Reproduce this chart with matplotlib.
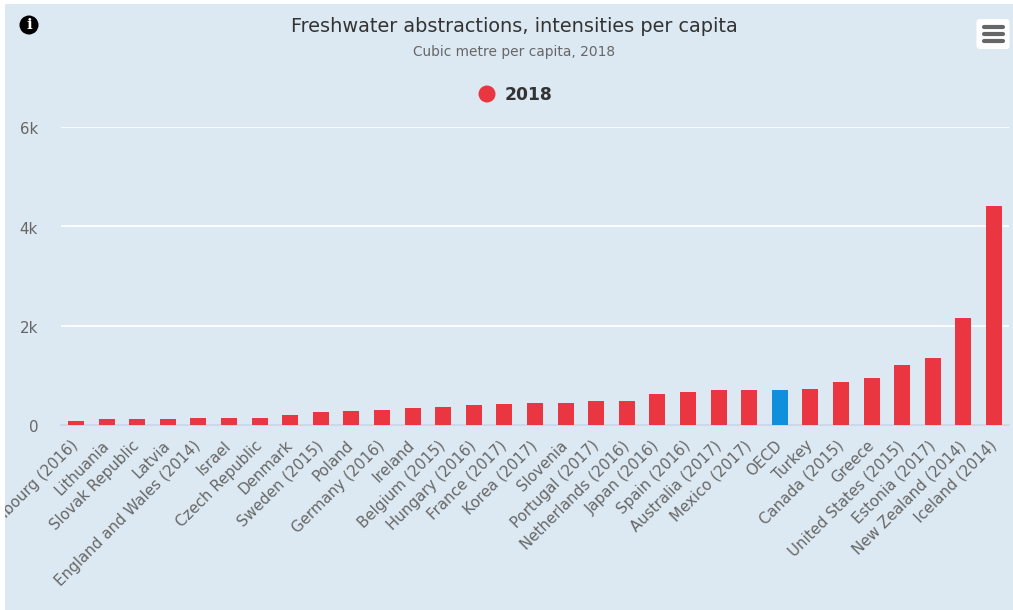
import matplotlib
matplotlib.use('Agg')
import matplotlib.pyplot as plt
from matplotlib.patches import Rectangle, Circle, FancyBboxPatch
from matplotlib.transforms import Affine2D

countries = ['Luxembourg (2016)', 'Lithuania', 'Slovak Republic', 'Latvia',
             'England and Wales (2014)', 'Israel', 'Czech Republic', 'Denmark',
             'Sweden (2015)', 'Poland', 'Germany (2016)', 'Ireland',
             'Belgium (2015)', 'Hungary (2016)', 'France (2017)', 'Korea (2017)',
             'Slovenia', 'Portugal (2017)', 'Netherlands (2016)', 'Japan (2016)',
             'Spain (2016)', 'Australia (2017)', 'Mexico (2017)', 'OECD', 'Turkey',
             'Canada (2015)', 'Greece', 'United States (2015)', 'Estonia (2017)',
             'New Zealand (2014)', 'Iceland (2014)']
values = [80, 120, 120, 120, 140, 140, 140, 200, 260, 280, 300, 340,
          360, 400, 420, 440, 440, 480, 480, 620, 660, 700, 700, 700, 720,
          860, 940, 1200, 1340, 2160, 4410]
yticks = [0, 2000, 4000, 6000]
ytick_labels = ['0', '2k', '4k', '6k']

W, H = 1013, 610
BG = '#dce9f2'
RED = '#ea3640'
BLUE = '#0f8fdc'
GREY = '#666666'


def fx(x):
    return x / W


def fy(y):
    return 1 - y / H


fig = plt.figure(figsize=(W / 100, H / 100), dpi=100, facecolor='white')
fig.patches.append(Rectangle((fx(5), 0), 1 - fx(5), fy(4), transform=fig.transFigure,
                             facecolor=BG, edgecolor='none', zorder=-5))

ax = fig.add_axes([fx(60.7), fy(425), fx(948.6), fy(127) - fy(425)])
ax.patch.set_alpha(0)
colors = [BLUE if c == 'OECD' else RED for c in countries]
ax.bar(range(len(values)), values, width=0.52, color=colors, zorder=3)
ax.set_xlim(-0.5, len(values) - 0.5)
ax.set_ylim(0, 6000)
for s in ['top', 'right', 'left']:
    ax.spines[s].set_visible(False)
ax.spines['bottom'].set_color('#c8d4ec')
ax.spines['bottom'].set_linewidth(1.2)
ax.spines['bottom'].set_zorder(2)
ax.set_yticks(yticks)
ax.set_yticklabels(ytick_labels, fontsize=10.8, color=GREY)
ax.tick_params(axis='y', length=0, pad=16.3)
ax.grid(axis='y', color='white', linewidth=1.2, zorder=1)
ax.yaxis.get_major_ticks()[0].gridline.set_visible(False)
for lab in ax.get_yticklabels():
    lab.set_transform(lab.get_transform() + Affine2D().translate(0, -1.5))
ax.set_xticks(range(len(values)))
ax.set_xticklabels(countries, rotation=45, ha='right', rotation_mode='anchor',
                   fontsize=10.8, color=GREY)
ax.tick_params(axis='x', length=0, pad=10)
for lab in ax.get_xticklabels():
    lab.set_transform(lab.get_transform() + Affine2D().translate(-5.5, 1))

fig.text(fx(514.5), fy(27), 'Freshwater abstractions, intensities per capita',
         ha='center', va='center', fontsize=13.85, color='#333333')
fig.text(fx(514.5), fy(52), 'Cubic metre per capita, 2018',
         ha='center', va='center', fontsize=9.95, color=GREY)

# legend
fig.patches.append(Circle((487, H - 94), 8.5, transform=None, facecolor=RED, edgecolor='none'))
fig.text(fx(505), fy(95), '2018', ha='left', va='center', fontsize=12.3,
         fontweight='bold', color='#333333')

# info icon
fig.patches.append(Circle((29, H - 25), 9.5, transform=None, facecolor='black', edgecolor='none'))
fig.text(fx(29), fy(25), 'i', ha='center', va='center', fontsize=11,
         fontweight='bold', family='DejaVu Serif', color='white')

# menu button
fig.patches.append(FancyBboxPatch((976.5, H - 49), 33, 30, boxstyle='round,pad=0,rounding_size=3',
                                  transform=None, facecolor='white', edgecolor='none'))
for yy in [27, 34, 41]:
    fig.add_artist(plt.Line2D([fx(984), fx(1003)], [fy(yy), fy(yy)], color=GREY,
                              linewidth=3, solid_capstyle='round'))

# left margin stays white, long label gets cut there
fig.patches.append(Rectangle((0, 0), fx(5), 1, transform=fig.transFigure,
                             facecolor='white', edgecolor='none', zorder=20))

fig.savefig('out.png', dpi=100, facecolor='white')
